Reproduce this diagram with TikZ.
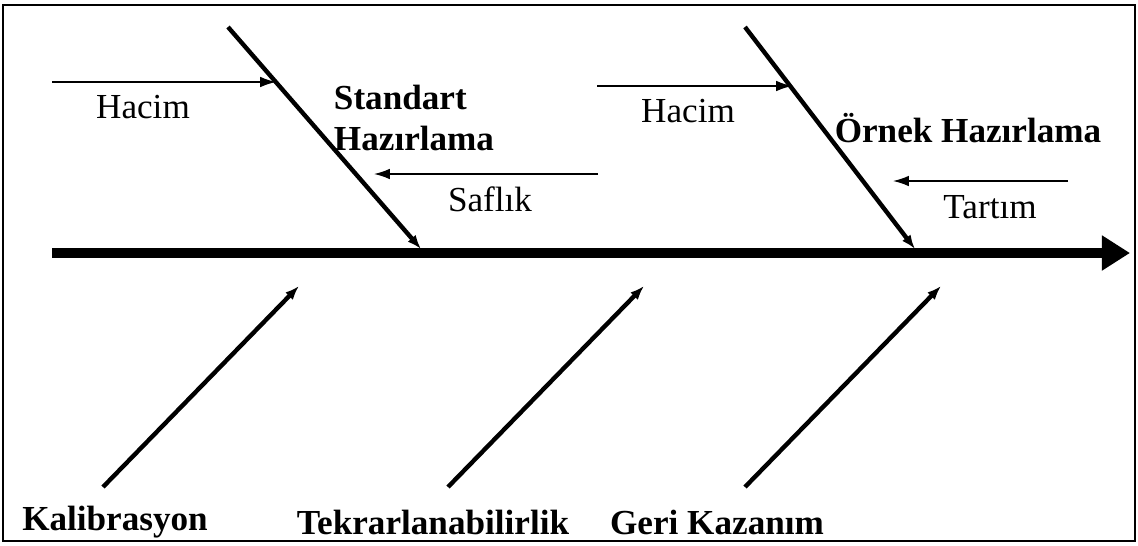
\documentclass[tikz,border=0pt]{standalone}
\usepackage{fontspec}
\setmainfont{Liberation Serif}
\usetikzlibrary{arrows.meta}
\begin{document}
\begin{tikzpicture}[x=0.02cm, y=-0.02cm, every node/.style={font=\fontsize{20}{20}\selectfont, inner sep=0pt},
  spine/.style={line width=5.8pt,-{Triangle[length=16pt,width=19pt]}},
  bone/.style={line width=2.5pt,-{Latex[length=8pt,width=6pt]}},
  cause/.style={line width=0.8pt,-{Latex[length=9pt,width=6pt]}},
  title/.style={font=\fontsize{20}{20}\selectfont\bfseries, align=left}]
\useasboundingbox (0,0) rectangle (1138,545);
\draw[line width=1.1pt] (3,5) rectangle (1135,541);
% main line
\coordinate (tail) at (52,253);
\coordinate (head) at (1130,253);
\draw[spine] (tail) -- (head);
% upper bones
\coordinate (std top) at (228,27);
\coordinate (std end) at (421,249);
\coordinate (orn top) at (745,27);
\coordinate (orn end) at (915,249);
\draw[bone] (std top) -- (std end);
\draw[bone] (orn top) -- (orn end);
\node[title] (std) at (414,118) {Standart\\[3pt]Hazırlama};
\node[title] (orn) at (968,128) {Örnek Hazırlama};
% causes on upper bones
\coordinate (h1 start) at (52,82);
\coordinate (h1 end) at (276,82);
\draw[cause] (h1 start) -- (h1 end);
\node (hacim1) at (143,107) {Hacim};
\coordinate (s start) at (598,174);
\coordinate (s end) at (374,174);
\draw[cause] (s start) -- (s end);
\node (saflik) at (490,199) {Saflık};
\coordinate (h2 start) at (597,86);
\coordinate (h2 end) at (792,86);
\draw[cause] (h2 start) -- (h2 end);
\node (hacim2) at (688,111) {Hacim};
\coordinate (t start) at (1068,181);
\coordinate (t end) at (893,181);
\draw[cause] (t start) -- (t end);
\node (tartim) at (990,207) {Tartım};
% lower bones
\coordinate (kal start) at (103,487);
\coordinate (kal end) at (299,286);
\coordinate (tek start) at (448,487);
\coordinate (tek end) at (644,286);
\coordinate (ger start) at (745,487);
\coordinate (ger end) at (941,286);
\draw[bone] (kal start) -- (kal end);
\draw[bone] (tek start) -- (tek end);
\draw[bone] (ger start) -- (ger end);
\node[title] (kal) at (115,522) {Kalibrasyon};
\node[title] (tek) at (433,522) {Tekrarlanabilirlik};
\node[title] (ger) at (717,522) {Geri Kazanım};
\end{tikzpicture}
\end{document}
